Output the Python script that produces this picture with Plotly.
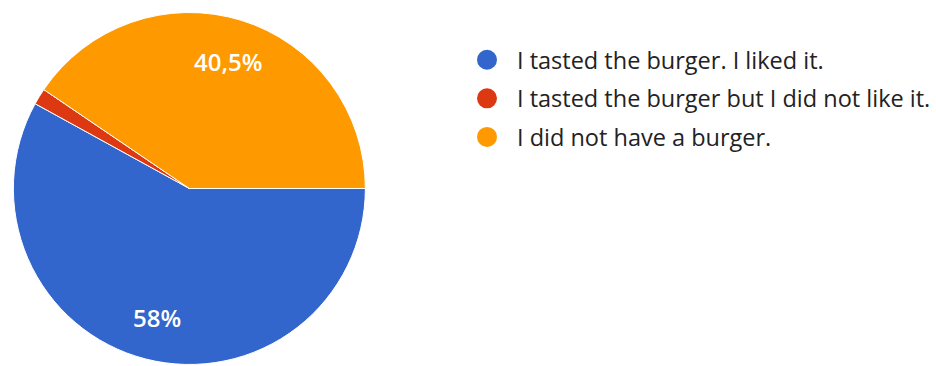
import math
import plotly.graph_objects as go

# Survey answers and their shares (%)
labels = [
    "I tasted the burger. I liked it.",
    "I tasted the burger but I did not like it.",
    "I did not have a burger.",
]
values = [58, 1.5, 40.5]
colors = ["#3366cc", "#dc3912", "#ff9900"]

W, H = 936, 366
# pie placement in paper coordinates
dom_y = [0.0, 0.97]
R_px = (dom_y[1] - dom_y[0]) * H / 2
cx_px = 191
dom_x = [(cx_px - R_px) / W, (cx_px + R_px) / W]
cy_paper = (dom_y[0] + dom_y[1]) / 2


def pct_text(v):
    return f"{v:g}".replace(".", ",") + "%"


fig = go.Figure()
fig.add_trace(go.Pie(
    labels=labels,
    values=values,
    sort=False,
    direction="clockwise",
    rotation=90,
    marker=dict(colors=colors, line=dict(color="white", width=1)),
    textinfo="none",
    hoverinfo="label+percent",
    showlegend=False,
    domain=dict(x=dom_x, y=dom_y),
))

# slice labels along each bisector
total = sum(values)
cum = 0.0
for v in values:
    mid = (cum + v / 2) / total
    cum += v
    if v / total < 0.05:
        continue
    theta = math.radians(360 * mid)  # clockwise from 3 o'clock
    r = 0.75 * R_px
    fig.add_annotation(
        x=(cx_px + r * math.cos(theta)) / W,
        y=cy_paper - r * math.sin(theta) / H,
        xref="paper", yref="paper",
        xanchor="center", yanchor="middle",
        text=pct_text(v),
        showarrow=False,
        font=dict(family="Open Sans", size=24, color="white", weight=600),
    )

# legend entries with round markers
for lab, col in zip(labels, colors):
    fig.add_trace(go.Scatter(
        x=[None], y=[None],
        mode="markers",
        name=lab,
        legendgroup=lab,
        marker=dict(symbol="circle", size=20, color=col,
                    line=dict(color=col, width=4)),
        showlegend=True,
    ))

fig.update_layout(
    width=W, height=H,
    margin=dict(l=0, r=0, t=0, b=0),
    paper_bgcolor="white",
    plot_bgcolor="white",
    xaxis=dict(visible=False),
    yaxis=dict(visible=False),
    legend=dict(
        x=(491 - 30) / W, xanchor="left",
        y=1 - 38 / H, yanchor="top",
        itemwidth=50,
        tracegroupgap=5,
        font=dict(family="Open Sans", size=23.5, color="#222222"),
        bgcolor="rgba(0,0,0,0)",
    ),
)

fig.write_html("out.html")
